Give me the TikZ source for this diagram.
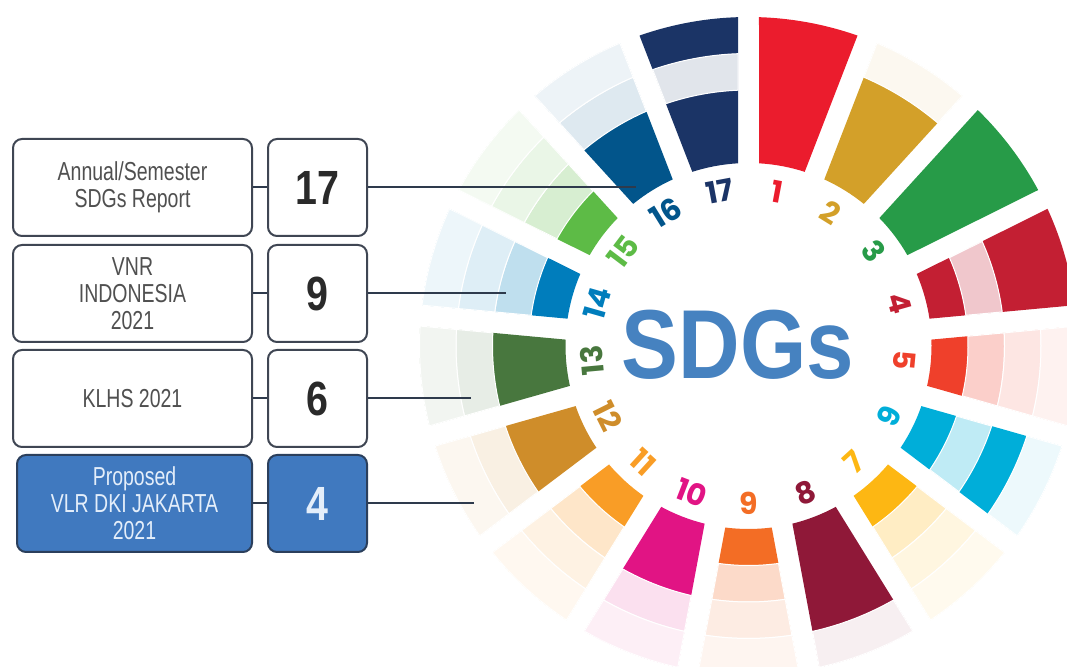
\documentclass[tikz,border=0pt]{standalone}
\usepackage{fontspec}
\setmainfont{Liberation Sans}
\newfontfamily\condfont[FakeStretch=0.75]{Liberation Sans}
\newfontfamily\numcond[FakeStretch=0.82]{Liberation Sans}
\newfontfamily\sdgfont[FakeStretch=0.87]{Liberation Sans}
\newfontfamily\goalfont{Poppins}
\definecolor{sdgc1}{HTML}{EB1C2D}
\definecolor{sdgc2}{HTML}{D3A029}
\definecolor{sdgc3}{HTML}{279B48}
\definecolor{sdgc4}{HTML}{C31F33}
\definecolor{sdgc5}{HTML}{EF402B}
\definecolor{sdgc6}{HTML}{00AED9}
\definecolor{sdgc7}{HTML}{FDB713}
\definecolor{sdgc8}{HTML}{8F1838}
\definecolor{sdgc9}{HTML}{F36D25}
\definecolor{sdgc10}{HTML}{E11484}
\definecolor{sdgc11}{HTML}{F99D26}
\definecolor{sdgc12}{HTML}{CF8D2A}
\definecolor{sdgc13}{HTML}{48773E}
\definecolor{sdgc14}{HTML}{007DBC}
\definecolor{sdgc15}{HTML}{5DBB46}
\definecolor{sdgc16}{HTML}{02558B}
\definecolor{sdgc17}{HTML}{1B3466}
\definecolor{sdgblue}{HTML}{4682C0}
\definecolor{boxline}{HTML}{3F4653}
\definecolor{linkc}{HTML}{2E3A4C}
\definecolor{vlrblue}{HTML}{4079BF}
\definecolor{vlrline}{HTML}{2B3F5C}
\definecolor{vlrtext}{HTML}{E4EEFA}
\definecolor{labgray}{HTML}{505050}
\definecolor{numdark}{HTML}{2A2A2A}
\newcommand\wsector[3]{%
  \pgfmathsetmacro\dA{asin(10.5/#2)}%
  \pgfmathsetmacro\dB{asin(10.5/#3)}%
  \path[#1] ({\aS-\dA}:#2pt) -- ({\aS-\dB}:#3pt)
    arc[start angle={\aS-\dB}, end angle={\aE+\dB}, radius=#3pt]
    -- ({\aE+\dA}:#2pt)
    arc[start angle={\aE+\dA}, end angle={\aS-\dA}, radius=#2pt] -- cycle;
}
\tikzset{
  lbox/.style={draw=boxline, line width=2pt, rounded corners=9pt, fill=white,
    minimum width=239pt, minimum height=97pt, inner sep=0pt, align=center,
    font=\condfont\fontsize{26}{27}\selectfont, text=labgray},
  nbox/.style={draw=boxline, line width=2pt, rounded corners=9pt, fill=white,
    minimum width=99pt, minimum height=97pt, inner sep=0pt,
    font=\numcond\bfseries\fontsize{48}{48}\selectfont, text=numdark},
  hl/.style={fill=vlrblue, draw=vlrline, text=vlrtext},
  link/.style={draw=linkc, line width=2pt},
  goallab/.style={inner sep=0pt, font=\goalfont\bfseries\fontsize{30}{30}\selectfont},
  lightring/.style={draw=white, line width=1pt}
}
\begin{document}
\begin{tikzpicture}[x=1pt,y=1pt]
\useasboundingbox (0,0) rectangle (1067,666);
\clip (0,0) rectangle (1067,666);
% wheel
\begin{scope}[shift={(748.5,320)}]
\foreach \k/\ra/\rb/\rc in {1/1/1/1, 2/1/1/0, 3/1/1/1, 4/0/1/1, 5/0/0/0, 6/0/1/0,
  7/0/0/0, 8/1/1/0, 9/0/0/0, 10/1/0/0, 11/0/0/0, 12/1/0/0, 13/1/0/0, 14/0/0/0,
  15/0/0/0, 16/1/0/0, 17/1/0/1}{
  \pgfmathsetmacro\aS{90-(\k-1)*360/17}
  \pgfmathsetmacro\aE{90-\k*360/17}
  \wsector{fill=sdgc\k}{183}{329}
  \ifnum\ra=0 \wsector{fill=sdgc\k!25!white,lightring}{219.5}{256}\fi
  \ifnum\rb=0 \wsector{fill=sdgc\k!13!white,lightring}{256}{292.5}\fi
  \ifnum\rc=0 \wsector{fill=sdgc\k!7!white,lightring}{292.5}{329}\fi
}
\foreach \k in {1,...,17}{
  \pgfmathsetmacro\th{90-(\k-0.5)*360/17}
  \pgfmathsetmacro\rot{(\k>6 && \k<13) ? \th+90 : \th-90}
  \node[goallab, text=sdgc\k, rotate=\rot] (g\k) at (\th:157pt) {\k};
}
\end{scope}
\node[font=\sdgfont\bfseries\fontsize{98}{98}\selectfont, text=sdgblue, inner sep=0pt] (title) at (738,321) {SDGs};
% end points in the wheel
\coordinate (e1) at (636,478.5);
\coordinate (e2) at (506,372.5);
\coordinate (e3) at (471,267.5);
\coordinate (e4) at (474,162.5);
% boxes
\node[lbox] (l1) at (132.5,478.5) {Annual/Semester\\SDGs Report};
\node[nbox] (n1) at (317.5,478.5) {17};
\node[lbox] (l2) at (132.5,372.5) {VNR\\INDONESIA\\2021};
\node[nbox] (n2) at (317.5,372.5) {9};
\node[lbox] (l3) at (132.5,267.5) {KLHS 2021};
\node[nbox] (n3) at (317.5,267.5) {6};
\node[lbox,hl,minimum width=235pt] (l4) at (134.5,162.5) {Proposed\\VLR DKI JAKARTA\\2021};
\node[nbox,hl] (n4) at (317.5,162.5) {4};
% connectors
\foreach \i in {1,2,3,4}{
  \draw[link] (l\i.east) -- (n\i.west);
  \draw[link] (n\i.east) -- (e\i);
}
\end{tikzpicture}
\end{document}
